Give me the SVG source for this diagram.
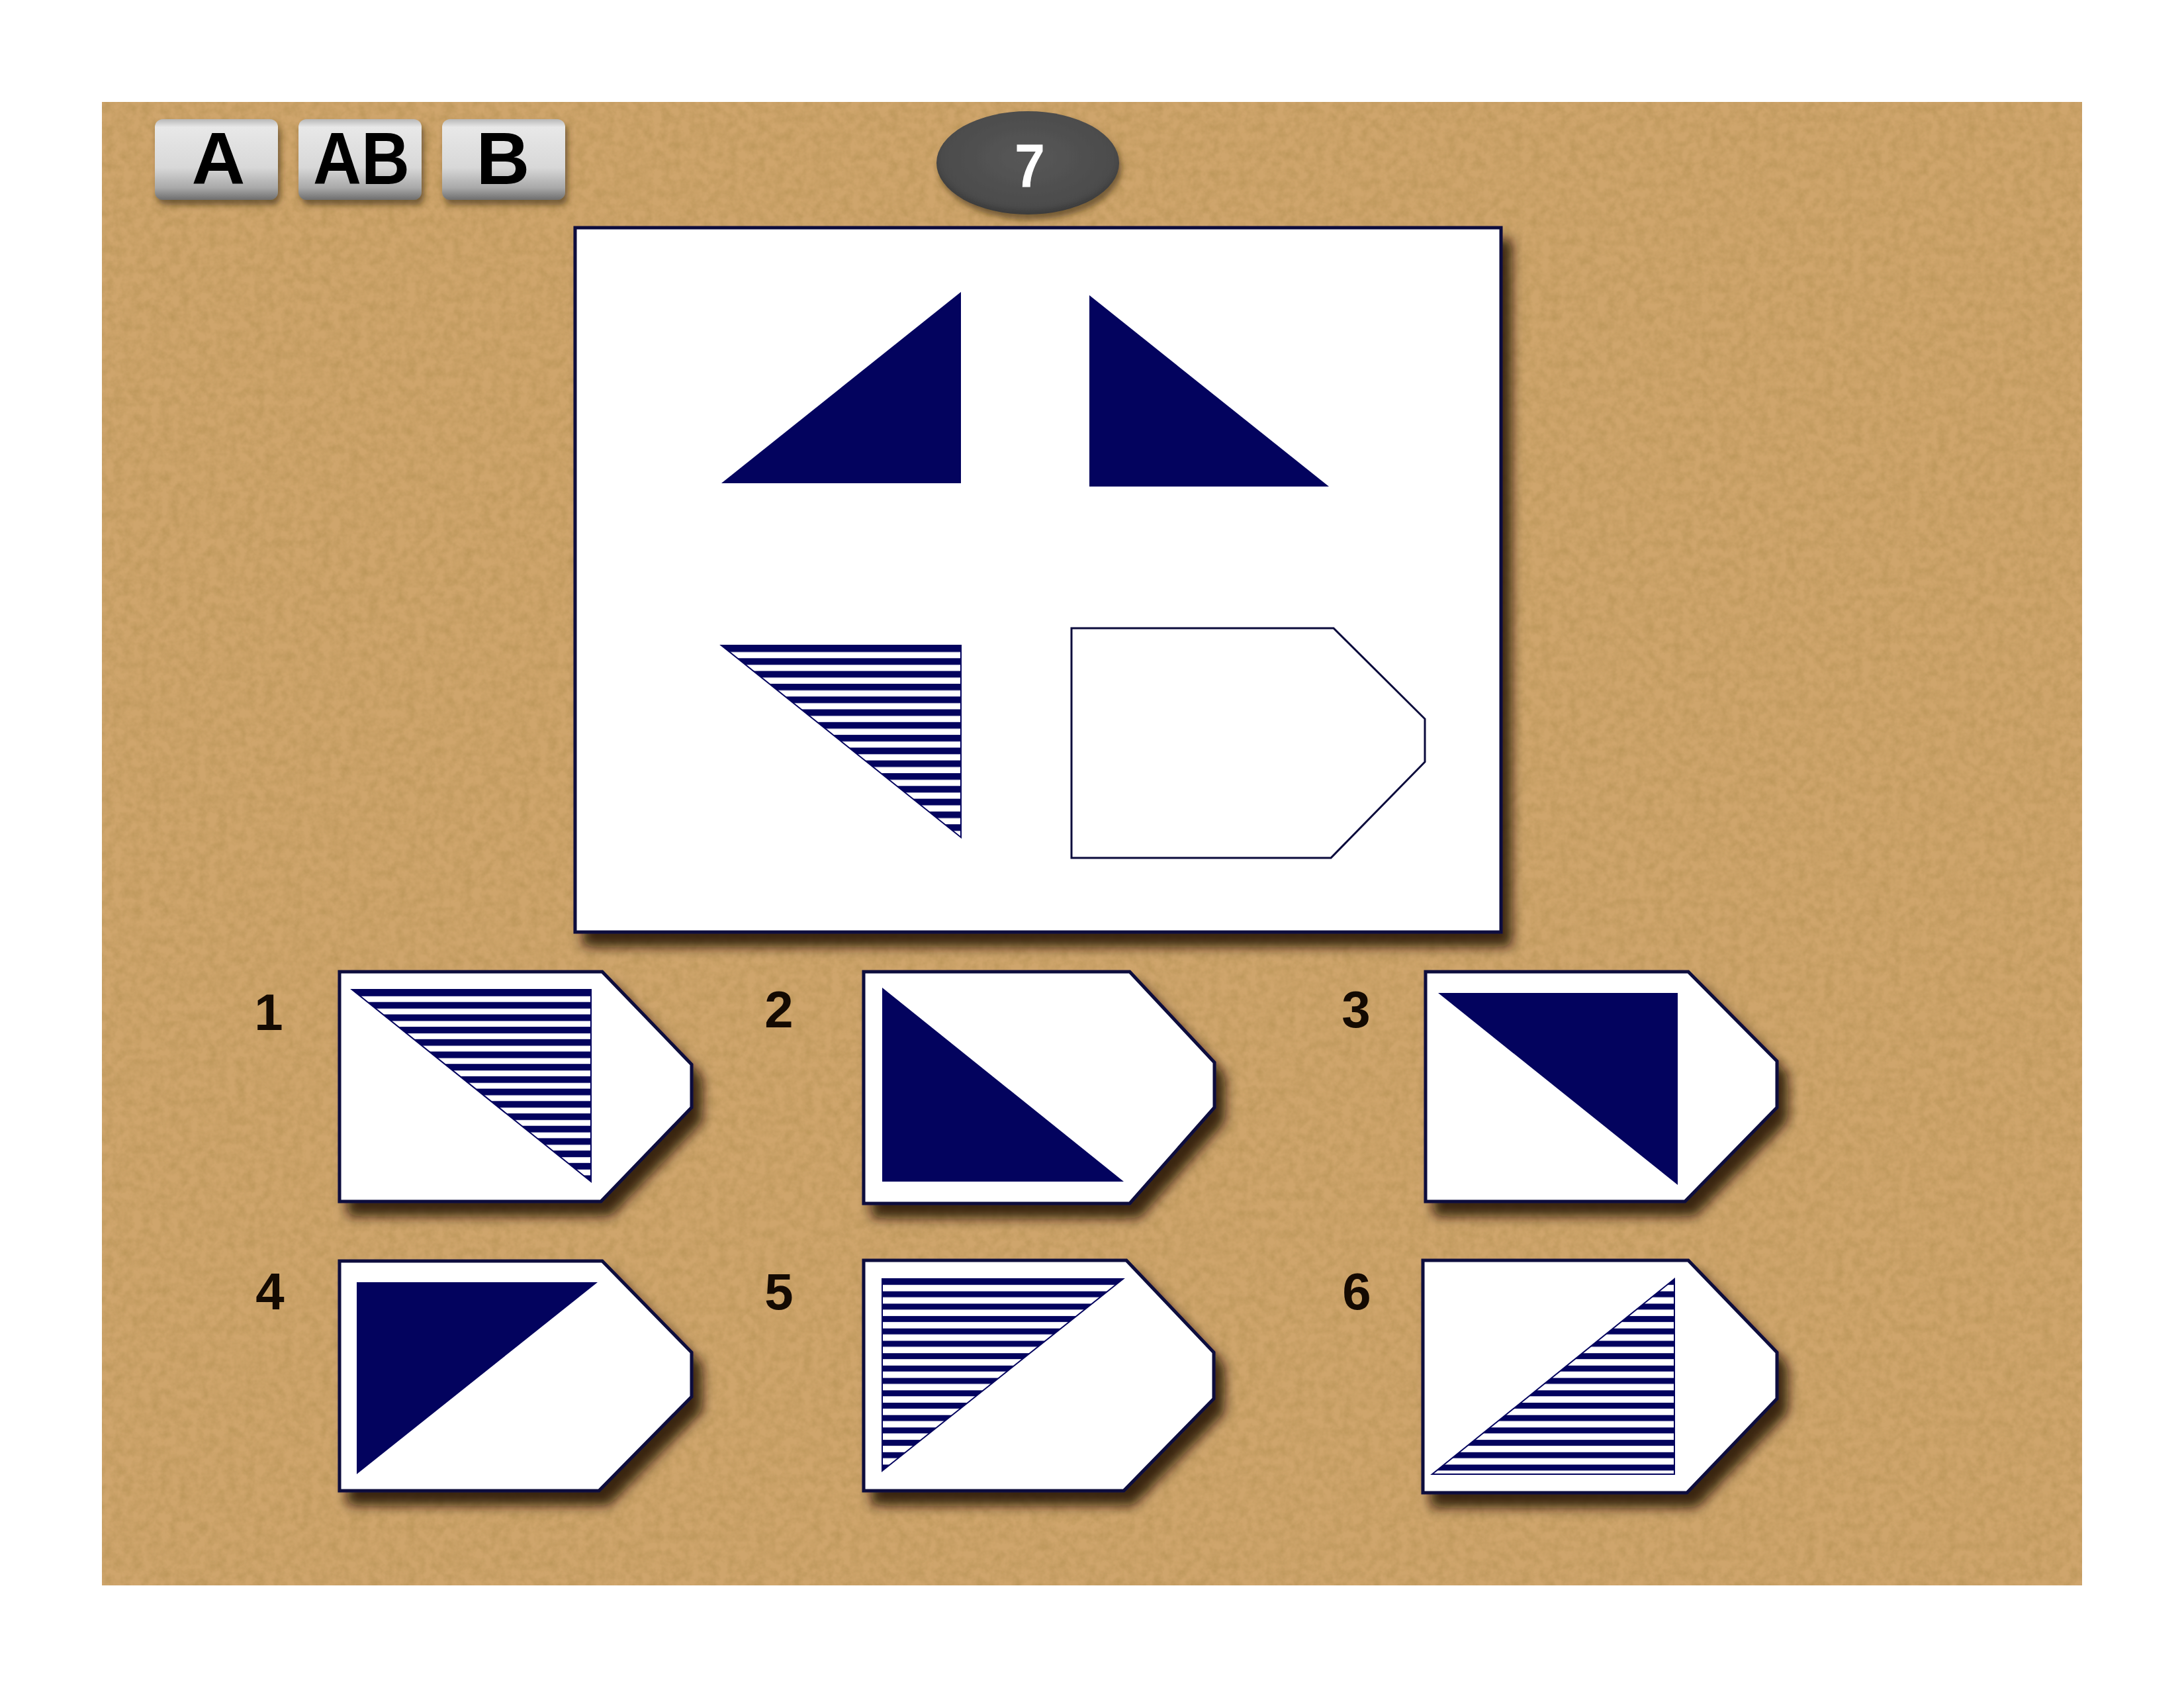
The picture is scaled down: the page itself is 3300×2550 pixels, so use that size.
<svg xmlns="http://www.w3.org/2000/svg" width="3300" height="2550" viewBox="0 0 3300 2550">
<style>
.card{fill:#ffffff;stroke:#0b0b3c;stroke-width:5;stroke-linejoin:miter;filter:url(#shadow)}
.navy{fill:#03035e}
.tri{stroke:#03035e;stroke-width:2}
.num{font-family:"Liberation Sans",Arial,sans-serif;font-weight:bold;font-size:78px;fill:#140a02;text-anchor:middle}
.btxt{font-family:"Liberation Sans",Arial,sans-serif;font-weight:bold;font-size:112px;fill:#000;text-anchor:middle}
</style>
<defs>
<filter id="shadow" x="-10%" y="-10%" width="130%" height="135%">
<feDropShadow dx="14" dy="20" stdDeviation="9" flood-color="#1a1005" flood-opacity="0.85"/>
</filter>
<filter id="bshadow" x="-10%" y="-10%" width="130%" height="140%">
<feDropShadow dx="4" dy="8" stdDeviation="5" flood-color="#3a2a10" flood-opacity="0.6"/>
</filter>
<filter id="noise" x="0" y="0" width="100%" height="100%">
<feTurbulence type="fractalNoise" baseFrequency="0.07" numOctaves="3" seed="4" result="t"/>
<feColorMatrix in="t" type="matrix" values="0 0 0 0 0.35  0 0 0 0 0.22  0 0 0 0 0.05  0 0 0 -1.1 0.75" result="c"/>
<feComposite in="c" in2="SourceGraphic" operator="in"/>
</filter>
<linearGradient id="btn" x1="0" y1="0" x2="0" y2="1">
<stop offset="0" stop-color="#b8b8b8"/>
<stop offset="0.1" stop-color="#e8e8e8"/>
<stop offset="0.6" stop-color="#d8d8d8"/>
<stop offset="0.85" stop-color="#a9a9a9"/>
<stop offset="1" stop-color="#6e6e6e"/>
</linearGradient>
<radialGradient id="oval" cx="0.5" cy="0.45" r="0.55">
<stop offset="0" stop-color="#575757"/>
<stop offset="0.85" stop-color="#4c4c4c"/>
<stop offset="1" stop-color="#3a3a3a"/>
</radialGradient>
<pattern id="stM" patternUnits="userSpaceOnUse" x="0" y="975" width="40" height="19.3"><rect width="40" height="10" fill="#03035e"/></pattern>
<pattern id="st1" patternUnits="userSpaceOnUse" x="0" y="1495" width="40" height="18.7"><rect width="40" height="10" fill="#03035e"/></pattern>
<pattern id="st5" patternUnits="userSpaceOnUse" x="0" y="1932" width="40" height="18.7"><rect width="40" height="9" fill="#03035e"/></pattern>
<pattern id="st6" patternUnits="userSpaceOnUse" x="0" y="1932" width="40" height="18.7"><rect width="40" height="9" fill="#03035e"/></pattern>
</defs>

<rect x="0" y="0" width="3300" height="2550" fill="#ffffff"/>
<g id="background">
<rect x="154" y="154" width="2992" height="2241" fill="#cfa56c"/>
<rect x="154" y="154" width="2992" height="2241" fill="#cfa56c" filter="url(#noise)" opacity="0.55"/>
</g>

<g id="buttons" filter="url(#bshadow)">
<g id="btn-A">
<rect x="234" y="180" width="186" height="122" rx="12" fill="url(#btn)"/>
<text class="btxt" x="330" y="278">A</text>
</g>
<g id="btn-AB">
<rect x="451" y="180" width="186" height="122" rx="12" fill="url(#btn)"/>
<text class="btxt" x="546" y="278" textLength="146" lengthAdjust="spacingAndGlyphs">AB</text>
</g>
<g id="btn-B">
<rect x="668" y="180" width="186" height="122" rx="12" fill="url(#btn)"/>
<text class="btxt" x="760" y="278">B</text>
</g>
</g>

<g id="badge" filter="url(#bshadow)">
<ellipse cx="1553" cy="246" rx="138" ry="78" fill="url(#oval)"/>
<text x="1556" y="282" font-family="'Liberation Sans',Arial,sans-serif" font-weight="bold" font-size="92" fill="#ffffff" text-anchor="middle" textLength="46" lengthAdjust="spacingAndGlyphs">7</text>
</g>

<g id="panel">
<rect x="869" y="344" width="1399" height="1064" fill="#ffffff" stroke="#0b0b3c" stroke-width="5" filter="url(#shadow)"/>
<polygon class="navy" points="1090,730 1452,730 1452,441"/>
<polygon class="navy" points="1646,446 1646,735 2008,735"/>
<polygon class="tri" fill="url(#stM)" points="1090,975 1452,975 1452,1265"/>
<polygon points="1619,949 2015,949 2153,1086 2153,1151 2011,1296 1619,1296" fill="#ffffff" stroke="#0b0b3c" stroke-width="3"/>
</g>

<g id="option-1">
<text class="num" x="406" y="1556">1</text>
<polygon class="card" points="513,1468 910,1468 1045,1608 1045,1673 908,1815 513,1815"/>
<polygon class="tri" fill="url(#st1)" points="532,1495 893,1495 893,1785"/>
</g>
<g id="option-2">
<text class="num" x="1177" y="1552">2</text>
<polygon class="card" points="1305,1468 1707,1468 1835,1605 1835,1673 1707,1818 1305,1818"/>
<polygon class="navy" points="1333,1492 1333,1785 1698,1785"/>
</g>
<g id="option-3">
<text class="num" x="2049" y="1552">3</text>
<polygon class="card" points="2154,1468 2551,1468 2685,1603 2685,1673 2546,1815 2154,1815"/>
<polygon class="navy" points="2173,1500 2535,1500 2535,1790"/>
</g>
<g id="option-4">
<text class="num" x="408" y="1978">4</text>
<polygon class="card" points="513,1905 910,1905 1045,2043 1045,2110 905,2252 513,2252"/>
<polygon class="navy" points="539,1937 903,1937 539,2227"/>
</g>
<g id="option-5">
<text class="num" x="1177" y="1978">5</text>
<polygon class="card" points="1305,1904 1702,1904 1834,2043 1834,2113 1698,2252 1305,2252"/>
<polygon class="tri" fill="url(#st5)" points="1333,1932 1697,1932 1333,2222"/>
</g>
<g id="option-6">
<text class="num" x="2050" y="1978">6</text>
<polygon class="card" points="2150,1904 2551,1904 2685,2043 2685,2113 2549,2255 2150,2255"/>
<polygon class="tri" fill="url(#st6)" points="2530,1932 2530,2227 2164,2227"/>
</g>
<g id="connectors"/>
</svg>
